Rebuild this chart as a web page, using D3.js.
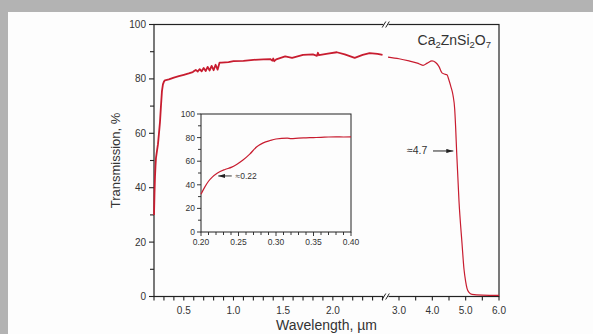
<!DOCTYPE html>
<html>
<head>
<meta charset="utf-8">
<script src="https://cdn.jsdelivr.net/npm/d3@7"></script>
<style>
body { margin: 0; background: #b3b3b3; }
svg { display: block; }
text { font-family: "Liberation Sans", Arial, sans-serif; fill: #333; }
</style>
</head>
<body>
<svg id="chart" width="593" height="334"></svg>
<script>
// main curve, short wavelength part (um, %)
var leftWl = [0.200, 0.205, 0.210, 0.215, 0.220, 0.230, 0.240, 0.250, 0.260, 0.270, 0.280, 0.290, 0.300, 0.310, 0.35, 0.40, 0.45, 0.50, 0.55, 0.59,
  0.60, 0.62, 0.64, 0.66, 0.68, 0.70, 0.72, 0.74, 0.76, 0.78, 0.80, 0.82, 0.84, 0.86,
  0.88, 0.95, 1.00, 1.10, 1.20, 1.30, 1.37, 1.39, 1.40, 1.41, 1.43, 1.52, 1.59, 1.70, 1.80, 1.84, 1.85, 1.86, 1.95, 2.04, 2.12, 2.22, 2.30, 2.37, 2.45, 2.50];
var leftT = [30, 38, 44, 48, 51, 53.5, 56, 60, 64, 70, 75.5, 78, 79, 79.5, 79.8, 80.5, 81, 81.5, 82, 82.5,
  82.8, 83.3, 82.7, 83.6, 82.8, 84.0, 82.9, 84.4, 83.1, 84.8, 83.2, 85.2, 83.4, 86.0,
  86.0, 86.2, 86.5, 86.6, 87.0, 87.2, 87.3, 86.7, 87.5, 86.5, 87.2, 88.3, 87.7, 88.8, 89.0, 88.5, 89.6, 88.7, 89.3, 89.8, 89.0, 87.7, 88.8, 89.5, 89.2, 88.8];
// main curve, long wavelength part
var rightWl = [2.67, 3.00, 3.30, 3.55, 3.72, 3.85, 3.99, 4.10, 4.20, 4.29, 4.36, 4.44, 4.50, 4.56, 4.62, 4.67, 4.70, 4.73, 4.80, 4.89, 4.95, 5.00, 5.04, 5.10, 5.19, 5.50, 6.00];
var rightT = [88, 87.4, 86.6, 85.8, 85.0, 85.8, 86.6, 86.0, 84.5, 82.2, 81.8, 81.5, 79.5, 77, 74, 69, 62, 53, 35, 19.6, 10, 5.5, 3, 1.5, 0.8, 0.5, 0.4];
// inset: absorption edge
var insetWl = [0.200, 0.205, 0.210, 0.215, 0.222, 0.232, 0.241, 0.248, 0.256, 0.265, 0.274, 0.283, 0.292, 0.300, 0.315, 0.320, 0.330, 0.340, 0.350, 0.360, 0.370, 0.380, 0.390, 0.400];
var insetT = [32, 38, 43, 46.5, 50, 53, 55, 57.5, 61, 66, 72, 75.5, 77.5, 78.8, 79.5, 79.2, 79.6, 79.8, 80, 80.2, 80.5, 80.6, 80.5, 80.6];

var leftMinor = d3.range(2, 26).map(function(d) { return d / 10; });
var leftLabels = [0.5, 1.0, 1.5, 2.0];
var rightTicks = [3.0, 3.5, 4.0, 4.5, 5.0, 5.5, 6.0];
var rightLabels = [3.0, 4.0, 5.0, 6.0];
var yTicks = [0, 10, 20, 30, 40, 50, 60, 70, 80, 90, 100];
var yLabels = [0, 20, 40, 60, 80, 100];
var insetXTicks = d3.range(20, 41).map(function(d) { return d / 100; });
var insetXLabels = [0.20, 0.25, 0.30, 0.35, 0.40];

var red = "#c81d30";
var ink = "#222";
var svg = d3.select("#chart");

svg.append("rect").attr("x", 8).attr("y", 12).attr("width", 585).attr("height", 322).attr("fill", "#fdfdfd");

var pL = 154, pR = 499, pT = 24.5, pB = 296.5, brk = 386;
var xL = d3.scaleLinear().domain([0.2, 2.535]).range([pL, brk]);
var xR = d3.scaleLinear().domain([2.61, 6.0]).range([brk, pR]);
var y = d3.scaleLinear().domain([0, 100]).range([pB, pT]);

// frame
svg.append("rect").attr("x", pL).attr("y", pT).attr("width", pR - pL).attr("height", pB - pT)
  .attr("fill", "none").attr("stroke", ink).attr("stroke-width", 1.2);

// y ticks
svg.selectAll(".ytick").data(yTicks).enter().append("line")
  .attr("x1", pL).attr("x2", function(d) { return d % 20 == 0 ? pL - 5 : pL - 4; })
  .attr("y1", y).attr("y2", y).attr("stroke", ink).attr("stroke-width", 1.1);
svg.selectAll(".ylab").data(yLabels).enter().append("text")
  .attr("x", pL - 8).attr("y", function(d) { return y(d) + 3.5; })
  .attr("text-anchor", "end").attr("font-size", 10).text(function(d) { return d; });

// x ticks
var xt = leftMinor.map(xL).concat(rightTicks.map(xR));
svg.selectAll(".xtick").data(xt).enter().append("line")
  .attr("x1", function(d) { return d; }).attr("x2", function(d) { return d; })
  .attr("y1", pB).attr("y2", pB + 4).attr("stroke", ink).attr("stroke-width", 1.1);
svg.selectAll(".xlabL").data(leftLabels).enter().append("text")
  .attr("x", xL).attr("y", pB + 17).attr("text-anchor", "middle").attr("font-size", 10)
  .text(function(d) { return d.toFixed(1); });
svg.selectAll(".xlabR").data(rightLabels).enter().append("text")
  .attr("x", xR).attr("y", pB + 17).attr("text-anchor", "middle").attr("font-size", 10)
  .text(function(d) { return d.toFixed(1); });

// axis breaks
[pT, pB].forEach(function(yy) {
  svg.append("rect").attr("x", brk - 2.5).attr("y", yy - 2).attr("width", 5).attr("height", 4).attr("fill", "#fdfdfd");
  [-2, 1.5].forEach(function(o) {
    svg.append("line").attr("x1", brk + o - 1.8).attr("x2", brk + o + 1.8)
      .attr("y1", yy + 3).attr("y2", yy - 3).attr("stroke", ink).attr("stroke-width", 1);
  });
});

// curves
var lineL = d3.line().x(function(d) { return xL(d[0]); }).y(function(d) { return y(d[1]); });
var lineR = d3.line().x(function(d) { return xR(d[0]); }).y(function(d) { return y(d[1]); }).curve(d3.curveMonotoneX);
svg.append("path").attr("d", lineL(d3.zip(leftWl, leftT))).attr("fill", "none")
  .attr("stroke", red).attr("stroke-width", 1.8).attr("stroke-linejoin", "round");
svg.append("path").attr("d", lineR(d3.zip(rightWl, rightT))).attr("fill", "none")
  .attr("stroke", red).attr("stroke-width", 1.2);

// arrow markers
svg.append("defs").append("marker").attr("id", "arr").attr("viewBox", "0 0 10 6")
  .attr("refX", 10).attr("refY", 3).attr("markerWidth", 7).attr("markerHeight", 4.2)
  .attr("markerUnits", "userSpaceOnUse").attr("orient", "auto")
  .append("path").attr("d", "M0,0L10,3L0,6Z").attr("fill", ink);

svg.append("line").attr("x1", xR(4.02)).attr("x2", xR(4.63)).attr("y1", y(53.5)).attr("y2", y(53.5))
  .attr("stroke", ink).attr("stroke-width", 1).attr("marker-end", "url(#arr)");
svg.append("text").attr("x", xR(3.24)).attr("y", y(53.5) + 3.5).attr("font-size", 10.5).text("\u22484.7");

// title
var title = svg.append("text").attr("x", 491).attr("y", 45).attr("text-anchor", "end").attr("font-size", 14);
title.append("tspan").text("Ca");
title.append("tspan").attr("font-size", 9.5).attr("dy", 3).text("2");
title.append("tspan").attr("dy", -3).text("ZnSi");
title.append("tspan").attr("font-size", 9.5).attr("dy", 3).text("2");
title.append("tspan").attr("dy", -3).text("O");
title.append("tspan").attr("font-size", 9.5).attr("dy", 3).text("7");

// axis titles
svg.append("text").attr("transform", "translate(120," + ((pT + pB) / 2) + ") rotate(-90)")
  .attr("text-anchor", "middle").attr("font-size", 13).text("Transmission, %");
svg.append("text").attr("x", (pL + pR) / 2).attr("y", 330).attr("text-anchor", "middle")
  .attr("font-size", 14).text("Wavelength, \u00b5m");

// inset
var iL = 201, iR = 351, iT = 114, iB = 232;
var ix = d3.scaleLinear().domain([0.2, 0.4]).range([iL, iR]);
var iy = d3.scaleLinear().domain([0, 100]).range([iB, iT]);
var inset = svg.append("g");
inset.append("rect").attr("x", iL).attr("y", iT).attr("width", iR - iL).attr("height", iB - iT)
  .attr("fill", "#fdfdfd").attr("stroke", ink).attr("stroke-width", 1);
inset.selectAll(".iyt").data(yTicks).enter().append("line")
  .attr("x1", iL).attr("x2", function(d) { return d % 20 == 0 ? iL - 4 : iL - 3; })
  .attr("y1", iy).attr("y2", iy).attr("stroke", ink).attr("stroke-width", 0.9);
inset.selectAll(".iyl").data(yLabels).enter().append("text")
  .attr("x", iL - 6).attr("y", function(d) { return iy(d) + 3; })
  .attr("text-anchor", "end").attr("font-size", 8.5).text(function(d) { return d; });
inset.selectAll(".ixt").data(insetXTicks).enter().append("line")
  .attr("x1", ix).attr("x2", ix).attr("y1", iB)
  .attr("y2", function(d, i) { return i % 5 == 0 ? iB + 4 : iB + 3; })
  .attr("stroke", ink).attr("stroke-width", 0.9);
inset.selectAll(".ixl").data(insetXLabels).enter().append("text")
  .attr("x", ix).attr("y", iB + 13).attr("text-anchor", "middle").attr("font-size", 8.5)
  .text(function(d) { return d.toFixed(2); });
var lineI = d3.line().x(function(d) { return ix(d[0]); }).y(function(d) { return iy(d[1]); }).curve(d3.curveMonotoneX);
inset.append("path").attr("d", lineI(d3.zip(insetWl, insetT))).attr("fill", "none")
  .attr("stroke", red).attr("stroke-width", 1.2);
inset.append("line").attr("x1", ix(0.241)).attr("x2", ix(0.223)).attr("y1", iy(47.5)).attr("y2", iy(47.5))
  .attr("stroke", ink).attr("stroke-width", 0.9).attr("marker-end", "url(#arr)");
inset.append("text").attr("x", ix(0.246)).attr("y", iy(47.5) + 3).attr("font-size", 8.5).text("\u22480.22");
</script>
</body>
</html>
